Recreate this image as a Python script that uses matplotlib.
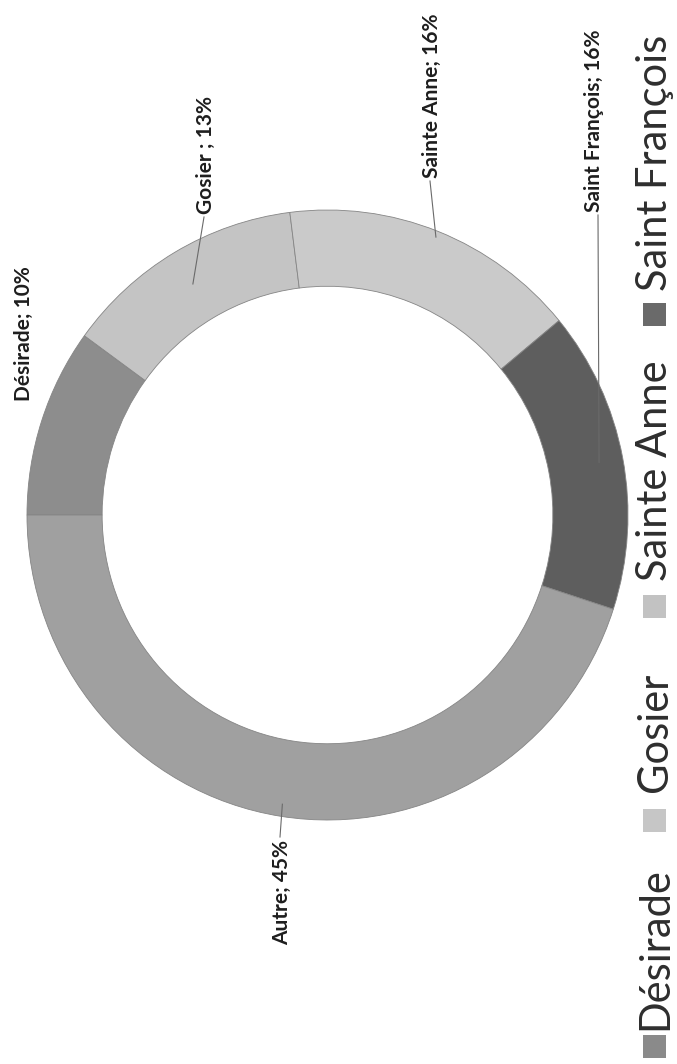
import matplotlib
matplotlib.use("Agg")
import matplotlib.pyplot as plt
import numpy as np
from matplotlib import font_manager as fm
from matplotlib.patches import Rectangle

# ---------------- data ----------------
categories = ["Désirade", "Gosier", "Sainte Anne", "Saint François", "Autre"]
values = [10, 13, 16, 16, 45]
data_labels = ["Désirade; 10%", "Gosier ; 13%", "Sainte Anne; 16%",
               "Saint François; 16%", "Autre; 45%"]
legend_items = ["Désirade", "Gosier", "Sainte Anne", "Saint François"]

colors = ["#8d8d8d", "#c4c4c4", "#cacaca", "#5e5e5e", "#a0a0a0"]
legend_colors = ["#8a8a8a", "#c6c6c6", "#c2c2c2", "#6a6a6a"]

# ---------------- fonts ----------------
avail = {f.name for f in fm.fontManager.ttflist}
label_font = "Liberation Sans Narrow" if "Liberation Sans Narrow" in avail else "Lato"
legend_font = "Lato"

W, H = 677, 1064
fig = plt.figure(figsize=(W / 100, H / 100), dpi=100)
fig.patch.set_facecolor("white")


def fx(x):
    return x / W


def fy(y):
    return 1 - y / H


# donut axes: outer ring spans x 27..628, y 210..820 (pixels)
ax = fig.add_axes([fx(27), fy(820), (628 - 27) / W, (820 - 210) / H])
wedges, _ = ax.pie(values, startangle=180, counterclock=False, radius=1.0,
                   colors=colors,
                   wedgeprops=dict(width=0.25, edgecolor="#858585", linewidth=0.6))
ax.set_aspect("auto")
ax.set_xlim(-1, 1)
ax.set_ylim(-1, 1)
ax.axis("off")

# mid-angles of wedges (from data)
mids = [np.deg2rad((w.theta1 + w.theta2) / 2) for w in wedges]


def ring_point(i, r):
    """data point on wedge i at radius r -> figure fraction"""
    xd, yd = r * np.cos(mids[i]), r * np.sin(mids[i])
    disp = ax.transData.transform((xd, yd))
    return fig.transFigure.inverted().transform(disp)


# ---------------- data labels (rotated) ----------------
# (x center, anchor y, ha, leader radius or None)
label_pos = {
    0: (24, 401, "left", None),
    1: (206, 214, "left", 0.88),
    2: (432, 178, "left", 0.98),
    3: (594, 212, "left", 0.92),
    4: (282, 840, "right", 0.96),
}
for i, (x, y, ha, rl) in label_pos.items():
    fig.text(fx(x), fy(y), data_labels[i], rotation=90, rotation_mode="anchor",
             ha=ha, va="center", fontsize=15, fontweight="bold",
             family=[label_font, "DejaVu Sans"], color="#1e1e1e")
    if rl is not None:
        px, py = ring_point(i, rl)
        sy = fy(y + 3) if ha == "left" else fy(y - 3)
        fig.add_artist(plt.Line2D([fx(x + (4 if i == 3 else -2)), px], [sy, py],
                                  transform=fig.transFigure, color="#6a6a6a",
                                  linewidth=0.8))

# ---------------- legend (rotated, manual) ----------------
# (marker center y, text bottom y)
legend_pos = [(1046, 1030), (820, 792), (606, 581), (314, 291)]
msize = 23
for name, col, (my, ty) in zip(legend_items, legend_colors, legend_pos):
    fig.add_artist(Rectangle((fx(654 - msize / 2), fy(my + msize / 2)),
                             msize / W, msize / H, transform=fig.transFigure,
                             facecolor=col, edgecolor="none"))
    fig.text(fx(667), fy(ty), name, rotation=90, rotation_mode="anchor",
             ha="left", va="baseline", fontsize=30, fontweight="normal",
             family=[legend_font, "DejaVu Sans"], color="#2e2e2e")

fig.savefig("out.png", dpi=100, facecolor="white")
